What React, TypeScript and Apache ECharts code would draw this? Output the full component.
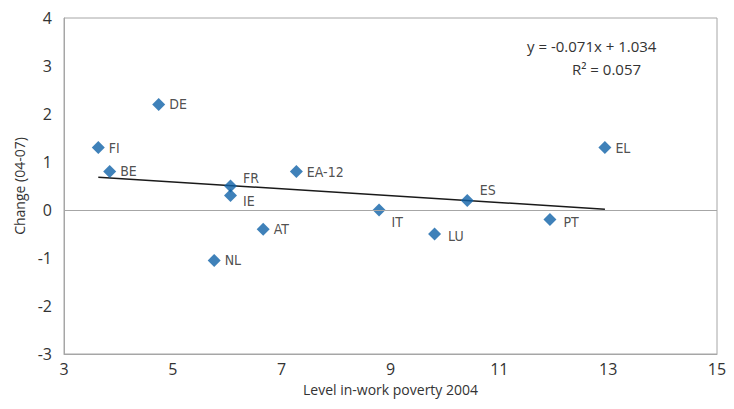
import React, { useEffect, useRef } from "react";
import * as echarts from "echarts";

const countries = ["FI", "BE", "DE", "FR", "IE", "EA-12", "AT", "NL", "IT", "ES", "LU", "PT", "EL"];
const povertyLevel2004 = [3.63, 3.84, 4.74, 6.06, 6.06, 7.27, 6.66, 5.76, 8.79, 10.41, 9.81, 11.93, 12.94];
const change0407 = [1.3, 0.8, 2.2, 0.5, 0.3, 0.8, -0.4, -1.05, 0.0, 0.2, -0.5, -0.2, 1.3];
const equationText = "y = -0.071x + 1.034";
const r2Text = "R² = 0.057";

const labelOffsets: Record<string, [number, number]> = {
  FI: [0, 0], BE: [0, -1], DE: [0, 0], FR: [2, -8], IE: [2, 5], "EA-12": [0, 0],
  AT: [0, 0], NL: [0, 0], IT: [2, 12], ES: [2, -10], LU: [3, 2], PT: [3, 2], EL: [0, 0],
};

function regression(xs: number[], ys: number[]) {
  const n = xs.length;
  const mx = xs.reduce((a, b) => a + b, 0) / n;
  const my = ys.reduce((a, b) => a + b, 0) / n;
  let sxy = 0, sxx = 0;
  for (let i = 0; i < n; i++) {
    sxy += (xs[i] - mx) * (ys[i] - my);
    sxx += (xs[i] - mx) * (xs[i] - mx);
  }
  const slope = sxy / sxx;
  return { slope, intercept: my - slope * mx };
}

export default function App() {
  const ref = useRef<HTMLDivElement>(null);
  useEffect(() => {
    if (!ref.current) return;
    const chart = echarts.init(ref.current, undefined, { renderer: "svg" });
    const { slope, intercept } = regression(povertyLevel2004, change0407);
    const xMin = Math.min(...povertyLevel2004);
    const xMax = Math.max(...povertyLevel2004);
    const font = "'Open Sans', 'DejaVu Sans', sans-serif";
    const labelFont = "'Liberation Sans Narrow', 'DejaVu Sans Condensed', 'Roboto', sans-serif";
    chart.setOption({
      animation: false,
      grid: { left: 64, right: 17, top: 18, bottom: 55, show: true, borderColor: "#a6a6a6", borderWidth: 1 },
      xAxis: {
        type: "value", min: 3, max: 15, interval: 2,
        name: "Level in-work poverty 2004", nameLocation: "middle", nameGap: 28,
        nameTextStyle: { fontFamily: font, fontSize: 14, color: "#333" },
        axisLine: { show: true, onZero: false, lineStyle: { color: "#a6a6a6" } },
        axisTick: { show: false },
        splitLine: { show: false },
        axisLabel: { fontFamily: font, fontSize: 16, color: "#333", margin: 7 },
      },
      yAxis: {
        type: "value", min: -3, max: 4, interval: 1,
        name: "Change (04-07)", nameLocation: "middle", nameGap: 38, nameRotate: 90,
        nameTextStyle: { fontFamily: font, fontSize: 14, color: "#333" },
        axisLine: { show: true, lineStyle: { color: "#a6a6a6" } },
        axisTick: { show: false },
        splitLine: { show: false },
        axisLabel: { fontFamily: font, fontSize: 16, color: "#333", margin: 12 },
      },
      graphic: [
        { type: "text", left: 527, top: 38, style: { text: equationText, font: `15px ${font}`, fill: "#333" } },
        { type: "text", left: 572, top: 61, style: { text: r2Text, font: `15px ${font}`, fill: "#333" } },
      ],
      series: [
        {
          type: "line",
          data: [[xMin, slope * xMin + intercept], [xMax, slope * xMax + intercept]],
          symbol: "none",
          lineStyle: { color: "#1a1a1a", width: 1.5 },
          z: 3,
          markLine: {
            silent: true, symbol: "none", label: { show: false },
            lineStyle: { color: "#a6a6a6", width: 1, type: "solid" },
            data: [{ yAxis: 0 }],
          },
        },
        {
          type: "scatter",
          symbol: "diamond",
          symbolSize: 13,
          z: 4,
          itemStyle: { color: "#0f62a8" },
          data: countries.map((c, i) => ({
            value: [povertyLevel2004[i], change0407[i]],
            name: c,
            label: {
              show: true, position: "right", distance: 4,
              offset: labelOffsets[c],
              formatter: c,
              fontFamily: labelFont, fontSize: 14, color: "#222",
            },
          })),
        },
      ],
    });
    return () => chart.dispose();
  }, []);
  return <div ref={ref} style={{ width: 734, height: 409, marginLeft: -8, marginTop: -8 }} />;
}
